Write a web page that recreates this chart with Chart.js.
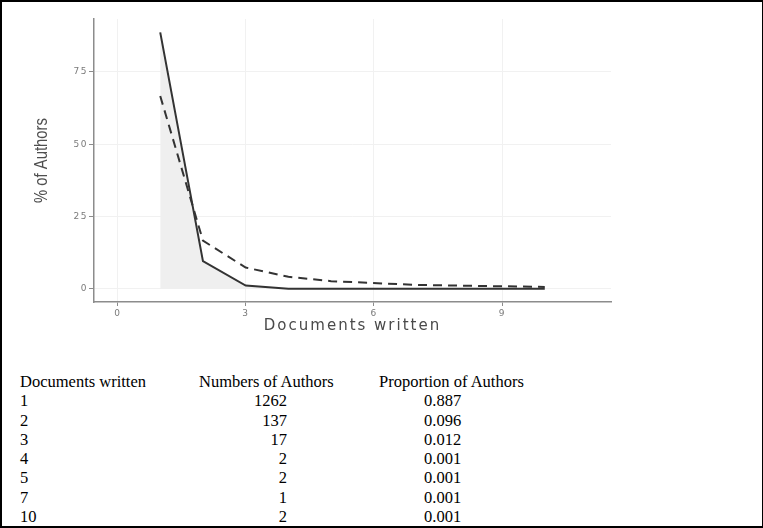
<!DOCTYPE html>
<html>
<head>
<meta charset="utf-8">
<script src="https://cdn.jsdelivr.net/npm/chart.js@4/dist/chart.umd.min.js"></script>
<style>
  html, body { margin: 0; padding: 0; background: #fff; }
  body { width: 763px; height: 528px; position: relative; overflow: hidden; }
  #frame { position: absolute; left: 0; top: 0; width: 763px; height: 528px; box-sizing: border-box; border: 2px solid #000; border-right-width: 1px; pointer-events: none; }
  #chart { position: absolute; left: 0; top: 0; }
  .tbl { position: absolute; left: 0; top: 372px; font-family: 'Liberation Serif', 'Times New Roman', serif; font-size: 16.5px; color: #000; }
  .row { position: relative; height: 19.3px; line-height: 19.3px; width: 763px; }
  .c1 { position: absolute; left: 20px; white-space: nowrap; }
  .c2h { position: absolute; left: 199px; white-space: nowrap; }
  .c2 { position: absolute; right: calc(763px - 287px); white-space: nowrap; text-align: right; }
  .c3h { position: absolute; left: 379px; white-space: nowrap; }
  .c3 { position: absolute; left: 424px; white-space: nowrap; }
</style>
</head>
<body>
<canvas id="chart" width="763" height="345"></canvas>
<div class="tbl" id="tbl"></div>
<div id="frame"></div>
<script>
// ---- data ----
const tableHeaders = ['Documents written', 'Numbers of Authors', 'Proportion of Authors'];
const documentsWritten = [1, 2, 3, 4, 5, 7, 10];
const numbersOfAuthors = [1262, 137, 17, 2, 2, 1, 2];
const proportionLabels = ['0.887', '0.096', '0.012', '0.001', '0.001', '0.001', '0.001'];
const observedPct = [88.7, 9.6, 1.2, 0.1, 0.1, 0.1, 0.1];
const theoreticalPct = [66.7, 16.7, 7.4, 4.2, 2.7, 1.4, 0.7];
const xTickValues = [0, 3, 6, 9];
const yTickValues = [0, 25, 50, 75];
const xAxisTitle = 'Documents written';
const yAxisTitle = '% of Authors';

// ---- table ----
const tbl = document.getElementById('tbl');
function addRow(a, b, c, header) {
  const r = document.createElement('div');
  r.className = 'row';
  const d1 = document.createElement('span'); d1.className = 'c1'; d1.textContent = a;
  const d2 = document.createElement('span'); d2.className = header ? 'c2h' : 'c2'; d2.textContent = b;
  const d3 = document.createElement('span'); d3.className = header ? 'c3h' : 'c3'; d3.textContent = c;
  r.append(d1, d2, d3);
  tbl.appendChild(r);
}
addRow(tableHeaders[0], tableHeaders[1], tableHeaders[2], true);
documentsWritten.forEach((d, i) => addRow(String(d), String(numbersOfAuthors[i]), proportionLabels[i], false));

// ---- chart ----
const observedPoints = documentsWritten.map((d, i) => ({ x: d, y: observedPct[i] }));
const theoreticalPoints = documentsWritten.map((d, i) => ({ x: d, y: theoreticalPct[i] }));

// draws the scale in pieces so that label/title letter spacing (and a narrow
// y-title) can be set
function patchDraw(scale, titleSpacing, labelSpacing, titleSqueeze) {
  if (scale._patched) return;
  scale._patched = true;
  scale.draw = function (area) {
    const ctx = this.ctx;
    this.drawBackground();
    this.drawGrid(area);
    ctx.save();
    if (titleSpacing) ctx.letterSpacing = titleSpacing;
    if (titleSqueeze) {
      const cy = (this.top + this.bottom) / 2;
      ctx.translate(0, cy);
      ctx.scale(1, titleSqueeze);
      ctx.translate(0, -cy);
    }
    this.drawTitle();
    ctx.restore();
    this.drawBorder();
    ctx.save();
    if (labelSpacing) ctx.letterSpacing = labelSpacing;
    this.drawLabels(area);
    ctx.restore();
  };
}

const tickFont = { family: "'DejaVu Sans', Verdana, sans-serif", size: 9 };
const gridColor = '#f1f1f1';
const axisColor = '#8c8c8c';

new Chart(document.getElementById('chart'), {
  type: 'line',
  data: {
    datasets: [
      {
        label: 'Observed',
        data: observedPoints,
        borderColor: '#333333',
        borderWidth: 2,
        backgroundColor: '#efefef',
        fill: 'origin',
        pointRadius: 0,
        tension: 0
      },
      {
        label: 'Theoretical',
        data: theoreticalPoints,
        borderColor: '#333333',
        borderWidth: 2,
        borderDash: [9, 6],
        fill: false,
        pointRadius: 0,
        tension: 0
      }
    ]
  },
  options: {
    responsive: false,
    animation: false,
    layout: { padding: { left: 0, right: 152, top: 19, bottom: 0 } },
    plugins: {
      legend: { display: false },
      tooltip: { enabled: false },
      filler: { drawTime: 'beforeDatasetsDraw' }
    },
    scales: {
      x: {
        type: 'linear',
        min: -0.55,
        max: 11.55,
        afterFit: (s) => { s.height = 43; patchDraw(s, '2px', '1px', null); },
        afterBuildTicks: (s) => { s.ticks = xTickValues.map(v => ({ value: v })); },
        ticks: {
          font: tickFont,
          color: '#7a7a7a',
          padding: 2,
          maxRotation: 0,
          callback: (v) => String(v)
        },
        grid: { color: gridColor, lineWidth: 1, drawTicks: true, tickLength: 4, tickColor: axisColor, tickWidth: 1 },
        border: { display: true, color: axisColor, width: 1.5 },
        title: {
          display: true,
          text: xAxisTitle,
          color: '#4a4a4a',
          font: { family: "'DejaVu Sans', Verdana, sans-serif", size: 15 },
          padding: { top: 0, bottom: 10 }
        }
      },
      y: {
        type: 'linear',
        min: -4.5,
        max: 93.3,
        afterFit: (s) => { s.width = 94; patchDraw(s, null, '1.5px', 0.78); },
        afterBuildTicks: (s) => { s.ticks = yTickValues.map(v => ({ value: v })); },
        ticks: {
          font: tickFont,
          color: '#7a7a7a',
          padding: 1,
          callback: (v) => String(v)
        },
        grid: { color: gridColor, lineWidth: 1, drawTicks: true, tickLength: 5, tickColor: axisColor, tickWidth: 1 },
        border: { display: true, color: axisColor, width: 1.5 },
        title: {
          display: true,
          text: yAxisTitle,
          color: '#4f4f4f',
          font: { family: "'Liberation Sans', Arial, sans-serif", size: 19 },
          padding: { top: 30, bottom: 0 }
        }
      }
    }
  }
});
</script>
</body>
</html>
